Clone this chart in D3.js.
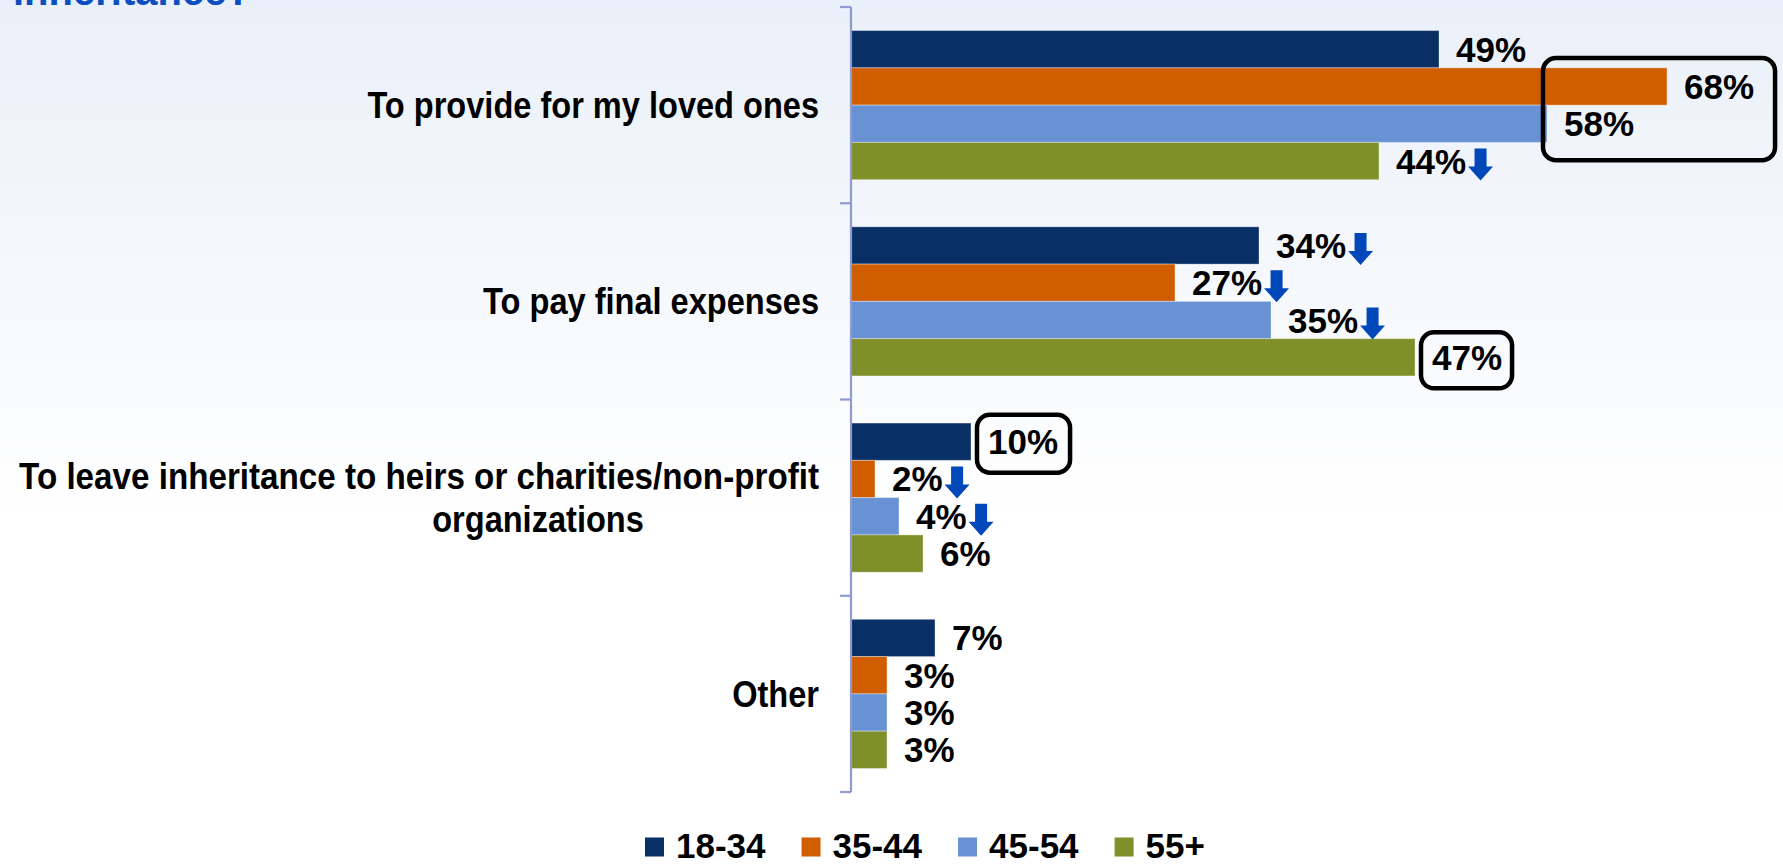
<!DOCTYPE html>
<html>
<head>
<meta charset="utf-8">
<script src="https://cdn.jsdelivr.net/npm/d3@7/dist/d3.min.js"></script>
<style>
  html, body { margin: 0; padding: 0; overflow: hidden; background: #fff; }
  svg { display: block; font-family: "Liberation Sans", Arial, sans-serif; }
</style>
</head>
<body>
<svg id="chart" width="1783" height="865"></svg>
<script>
// Reasons for leaving money behind, by age group (%)
const categories = [
  "To provide for my loved ones",
  "To pay final expenses",
  "To leave inheritance to heirs or charities/non-profit organizations",
  "Other"
];
const seriesNames = ["18-34", "35-44", "45-54", "55+"];
const age1834 = [49, 34, 10, 7];
const age3544 = [68, 27, 2, 3];
const age4554 = [58, 35, 4, 3];
const age55plus = [44, 47, 6, 3];
const seriesValues = [age1834, age3544, age4554, age55plus];
const seriesColors = ["#082f66", "#d05e00", "#6892d4", "#7f8f2a"];

// significantly lower results: [category index, series index]
const lowerMarks = [[0, 3], [1, 0], [1, 1], [1, 2], [2, 1], [2, 2]];
// highlighted results: category index and the series boxed together
const highlights = [
  { cat: 0, series: [1, 2] },
  { cat: 1, series: [3] },
  { cat: 2, series: [0] }
];

const W = 1783, H = 865;
const svg = d3.select("#chart");

// soft blue-to-white slide background
const defs = svg.append("defs");
const grad = defs.append("linearGradient").attr("id", "bg")
  .attr("x1", 0).attr("y1", 0).attr("x2", 0).attr("y2", 1);
grad.append("stop").attr("offset", "0%").attr("stop-color", "#eaf0f9");
grad.append("stop").attr("offset", "60%").attr("stop-color", "#ffffff");
grad.append("stop").attr("offset", "100%").attr("stop-color", "#ffffff");
svg.append("rect").attr("width", W).attr("height", H).attr("fill", "url(#bg)");

// slide title tail, running off the top edge
svg.append("text")
  .attr("x", 13).attr("y", 5)
  .attr("fill", "#0b4fc0")
  .attr("font-size", 40).attr("font-weight", "bold")
  .text("inheritance?");

const axisX = 851;
const x = d3.scaleLinear().domain([0, 70]).range([axisX, axisX + 840]);
const y0 = d3.scaleBand().domain(d3.range(categories.length))
  .range([7, 792]).paddingInner(0.24).paddingOuter(0.12);
const y1 = d3.scaleBand().domain(d3.range(seriesNames.length))
  .range([0, y0.bandwidth()]).padding(0);

// bars
const rows = [];
categories.forEach((c, ci) => {
  seriesNames.forEach((s, si) => {
    rows.push({ ci, si, v: seriesValues[si][ci] });
  });
});

svg.append("g").selectAll("rect").data(rows).join("rect")
  .attr("x", axisX)
  .attr("y", d => y0(d.ci) + y1(d.si))
  .attr("width", d => x(d.v) - axisX)
  .attr("height", y1.bandwidth())
  .attr("fill", d => seriesColors[d.si])
  .attr("stroke", "rgba(255,255,255,0.35)")
  .attr("stroke-width", 1);

// category axis: line plus ticks on band boundaries
const axisG = svg.append("g").attr("stroke", "#8f9ad3").attr("stroke-width", 2.2);
axisG.append("line").attr("x1", axisX).attr("x2", axisX).attr("y1", 7).attr("y2", 792);
const step = y0.step();
const bounds = categories.map((c, i) => y0(i) - y0.paddingInner() * step / 2);
bounds[0] = y0.range()[0];
bounds.push(y0.range()[1]);
axisG.selectAll("line.tick").data(bounds).join("line").attr("class", "tick")
  .attr("x1", axisX - 11).attr("x2", axisX).attr("y1", d => d).attr("y2", d => d);

// category labels, set in a condensed bold face (horizontally squeezed)
const squeeze = 0.88;
const wrapWidth = 562;
const labelRight = 819;
const maxLine = 812;
const catG = svg.append("g").attr("font-size", 37).attr("font-weight", "bold").attr("fill", "#000");
const measure = str => {
  const t = catG.append("text").text(str);
  const len = t.node().getComputedTextLength() * squeeze;
  t.remove();
  return len;
};
categories.forEach((c, ci) => {
  const cy = y0(ci) + y0.bandwidth() / 2;
  let lines = [c];
  if (measure(c) > maxLine) {
    // break before the word that pushes the line too far
    const words = c.split(" ");
    let first = [];
    for (const w of words) {
      if (measure([...first, w].join(" ")) > maxLine) break;
      first.push(w);
    }
    lines = [first.join(" "), words.slice(first.length).join(" ")];
  }
  const lh = 43;
  lines.forEach((ln, li) => {
    const ly = cy + (li - (lines.length - 1) / 2) * lh;
    const lxp = li === 0 ? labelRight : labelRight - wrapWidth / 2;
    const sx = li === 0 && lines.length > 1 ? squeeze * 1.02 : squeeze;
    catG.append("text")
      .attr("transform", `translate(${lxp},${ly}) scale(${sx},1)`)
      .attr("dy", "0.35em")
      .attr("text-anchor", li === 0 ? "end" : "middle")
      .text(ln);
  });
});

// value labels
const labelG = svg.append("g").attr("font-size", 35).attr("font-weight", "bold").attr("fill", "#000");
const labelBox = {};
rows.forEach(d => {
  const cy = y0(d.ci) + y1(d.si) + y1.bandwidth() / 2;
  const t = labelG.append("text")
    .attr("x", x(d.v) + 17).attr("y", cy + 12.5)
    .text(d.v + "%");
  const len = t.node().getComputedTextLength();
  labelBox[d.ci + "_" + d.si] = { x0: x(d.v) + 17, x1: x(d.v) + 17 + len, cy };
});

// blue down arrows after lower results
const arrowG = svg.append("g").attr("fill", "#0047ba");
lowerMarks.forEach(([ci, si]) => {
  const b = labelBox[ci + "_" + si];
  const ax = b.x1 + 2, c = b.cy;
  const p = d3.path();
  p.moveTo(ax + 6.5, c - 12.5);
  p.lineTo(ax + 18.5, c - 12.5);
  p.lineTo(ax + 18.5, c + 5.5);
  p.lineTo(ax + 25, c + 5.5);
  p.lineTo(ax + 12.5, c + 19.5);
  p.lineTo(ax, c + 5.5);
  p.lineTo(ax + 6.5, c + 5.5);
  p.closePath();
  arrowG.append("path").attr("d", p.toString());
});

// rounded boxes around highlighted results
const boxPads = [[21, 21, 28.5, 36.5], [11, 10, 25, 31], [11, 12, 27, 31]];
const boxG = svg.append("g").attr("fill", "none").attr("stroke", "#000").attr("stroke-width", 4.5);
highlights.forEach((h, hi) => {
  const bs = h.series.map(si => labelBox[h.cat + "_" + si]);
  const [pl, pr, pt, pb] = boxPads[hi];
  const left = d3.min(bs, b => b.x0) - pl;
  const right = d3.max(bs, b => b.x1) + pr;
  const top = d3.min(bs, b => b.cy) - pt;
  const bottom = d3.max(bs, b => b.cy) + pb;
  boxG.append("rect")
    .attr("x", left).attr("y", top)
    .attr("width", right - left).attr("height", bottom - top)
    .attr("rx", 13).attr("ry", 13);
});

// legend
const legG = svg.append("g").attr("font-size", 35).attr("font-weight", "bold");
let lx = 645;
const ly = 847;
seriesNames.forEach((s, si) => {
  legG.append("rect").attr("x", lx).attr("y", ly - 9.5).attr("width", 19).attr("height", 19)
    .attr("fill", seriesColors[si]);
  const t = legG.append("text").attr("x", lx + 31).attr("y", ly + 11).attr("fill", "#000").text(s);
  lx += 31 + t.node().getComputedTextLength() + 36;
});
</script>
</body>
</html>
